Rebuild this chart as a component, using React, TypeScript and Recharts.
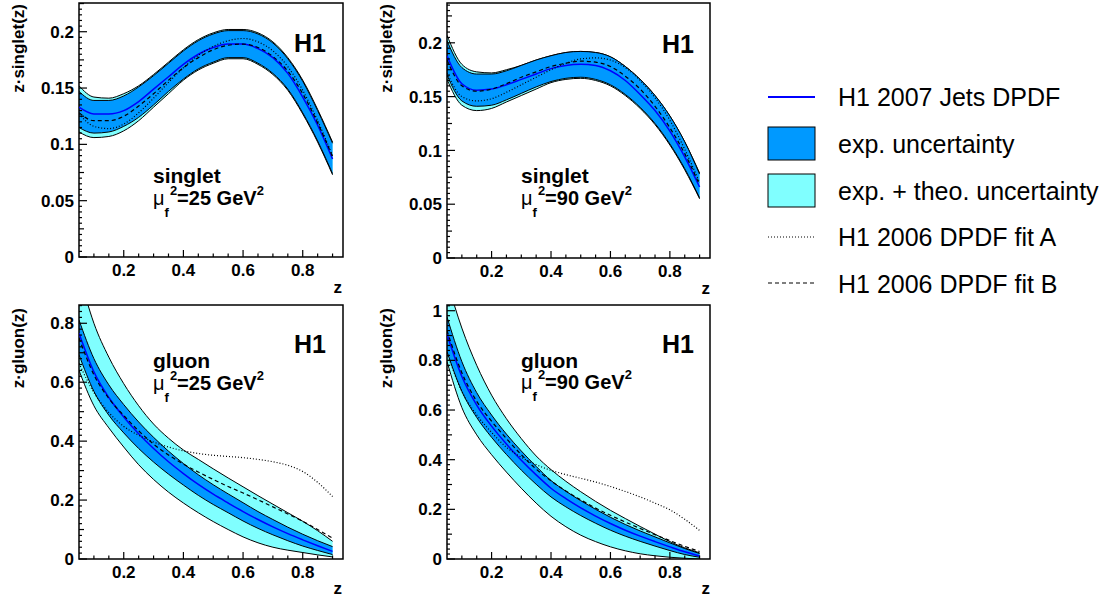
import React from 'react';
import { ComposedChart, Area, Line, XAxis, YAxis, ReferenceArea } from 'recharts';

const FONT = '"Liberation Sans", Arial, Helvetica, sans-serif';
const DARK = '#0099ff';
const LIGHT = '#80ffff';

// z grid shared by all four panels
const zValues = [0.05, 0.1, 0.15, 0.2, 0.25, 0.3, 0.35, 0.4, 0.45, 0.5, 0.55, 0.6, 0.65, 0.7, 0.75, 0.8, 0.85, 0.9];

// singlet, mu_f^2 = 25 GeV^2
const s25Central = [0.133, 0.127, 0.127, 0.130, 0.138, 0.149, 0.160, 0.171, 0.180, 0.186, 0.189, 0.189, 0.185, 0.177, 0.163, 0.142, 0.117, 0.087];
const s25ExpHigh = [0.147, 0.139, 0.139, 0.143, 0.151, 0.161, 0.172, 0.183, 0.192, 0.198, 0.201, 0.201, 0.198, 0.190, 0.176, 0.156, 0.130, 0.101];
const s25ExpLow = [0.115, 0.110, 0.111, 0.116, 0.124, 0.135, 0.147, 0.158, 0.167, 0.173, 0.177, 0.177, 0.172, 0.163, 0.149, 0.128, 0.103, 0.074];
const s25TotHigh = [0.152, 0.142, 0.141, 0.145, 0.152, 0.162, 0.173, 0.184, 0.193, 0.199, 0.202, 0.202, 0.199, 0.191, 0.177, 0.157, 0.131, 0.102];
const s25TotLow = [0.111, 0.106, 0.107, 0.112, 0.121, 0.133, 0.145, 0.157, 0.166, 0.172, 0.176, 0.176, 0.171, 0.162, 0.148, 0.127, 0.102, 0.073];
const s25FitA = [0.127, 0.116, 0.114, 0.118, 0.128, 0.141, 0.155, 0.168, 0.179, 0.187, 0.192, 0.194, 0.191, 0.183, 0.169, 0.148, 0.121, 0.090];
const s25FitB = [0.128, 0.121, 0.121, 0.125, 0.134, 0.145, 0.157, 0.168, 0.177, 0.184, 0.188, 0.189, 0.186, 0.178, 0.165, 0.145, 0.119, 0.089];

// singlet, mu_f^2 = 90 GeV^2
const s90Central = [0.188, 0.162, 0.156, 0.157, 0.161, 0.166, 0.171, 0.176, 0.179, 0.180, 0.179, 0.174, 0.165, 0.152, 0.137, 0.118, 0.094, 0.066];
const s90ExpHigh = [0.202, 0.177, 0.171, 0.171, 0.174, 0.179, 0.184, 0.188, 0.191, 0.192, 0.191, 0.187, 0.178, 0.166, 0.151, 0.132, 0.108, 0.078];
const s90ExpLow = [0.170, 0.146, 0.141, 0.142, 0.147, 0.153, 0.159, 0.164, 0.167, 0.168, 0.166, 0.161, 0.152, 0.140, 0.125, 0.106, 0.083, 0.056];
const s90TotHigh = [0.207, 0.180, 0.173, 0.172, 0.175, 0.179, 0.184, 0.188, 0.191, 0.192, 0.191, 0.187, 0.178, 0.166, 0.151, 0.132, 0.108, 0.079];
const s90TotLow = [0.166, 0.142, 0.137, 0.139, 0.145, 0.151, 0.157, 0.163, 0.166, 0.167, 0.165, 0.160, 0.151, 0.139, 0.124, 0.105, 0.082, 0.055];
const s90FitA = [0.172, 0.150, 0.146, 0.148, 0.154, 0.161, 0.168, 0.175, 0.181, 0.185, 0.186, 0.184, 0.177, 0.165, 0.149, 0.128, 0.101, 0.070];
const s90FitB = [0.184, 0.160, 0.155, 0.157, 0.162, 0.168, 0.173, 0.178, 0.181, 0.183, 0.182, 0.178, 0.169, 0.157, 0.141, 0.121, 0.097, 0.068];

// gluon, mu_f^2 = 25 GeV^2
const g25Central = [0.766, 0.635, 0.548, 0.482, 0.425, 0.375, 0.33, 0.29, 0.253, 0.22, 0.19, 0.161, 0.134, 0.109, 0.086, 0.065, 0.045, 0.026];
const g25ExpHigh = [0.811, 0.68, 0.591, 0.524, 0.465, 0.413, 0.366, 0.324, 0.286, 0.252, 0.221, 0.191, 0.161, 0.134, 0.108, 0.084, 0.062, 0.042];
const g25ExpLow = [0.693, 0.569, 0.488, 0.428, 0.375, 0.329, 0.288, 0.251, 0.216, 0.185, 0.157, 0.129, 0.104, 0.082, 0.062, 0.044, 0.029, 0.015];
const g25TotHigh = [0.97, 0.80, 0.685, 0.595, 0.52, 0.458, 0.41, 0.37, 0.338, 0.306, 0.275, 0.245, 0.215, 0.186, 0.157, 0.128, 0.096, 0.06];
const g25TotLow = [0.64, 0.52, 0.445, 0.38, 0.32, 0.27, 0.227, 0.19, 0.157, 0.127, 0.1, 0.075, 0.055, 0.04, 0.03, 0.022, 0.014, 0.007];
const g25FitA = [0.664, 0.565, 0.497, 0.45, 0.42, 0.397, 0.38, 0.367, 0.358, 0.352, 0.348, 0.344, 0.338, 0.33, 0.318, 0.297, 0.26, 0.212];
const g25FitB = [0.75, 0.625, 0.545, 0.487, 0.435, 0.39, 0.353, 0.322, 0.295, 0.27, 0.246, 0.224, 0.201, 0.177, 0.153, 0.128, 0.1, 0.071];

// gluon, mu_f^2 = 90 GeV^2
const g90Central = [0.905, 0.735, 0.62, 0.535, 0.463, 0.398, 0.339, 0.285, 0.243, 0.206, 0.173, 0.143, 0.116, 0.092, 0.07, 0.049, 0.029, 0.012];
const g90ExpHigh = [0.975, 0.795, 0.67, 0.58, 0.503, 0.435, 0.373, 0.316, 0.273, 0.235, 0.2, 0.168, 0.139, 0.113, 0.089, 0.065, 0.042, 0.022];
const g90ExpLow = [0.835, 0.675, 0.57, 0.49, 0.421, 0.358, 0.301, 0.25, 0.21, 0.175, 0.144, 0.116, 0.092, 0.071, 0.052, 0.034, 0.018, 0.007];
const g90TotHigh = [1.12, 0.93, 0.78, 0.66, 0.565, 0.485, 0.415, 0.36, 0.313, 0.271, 0.232, 0.196, 0.163, 0.131, 0.1, 0.07, 0.045, 0.025];
const g90TotLow = [0.795, 0.61, 0.50, 0.42, 0.35, 0.285, 0.225, 0.172, 0.13, 0.096, 0.07, 0.049, 0.033, 0.021, 0.013, 0.007, 0.003, 0.0];
const g90FitA = [0.83, 0.675, 0.58, 0.51, 0.45, 0.41, 0.38, 0.357, 0.34, 0.325, 0.31, 0.292, 0.272, 0.25, 0.225, 0.198, 0.16, 0.115];
const g90FitB = [0.92, 0.75, 0.635, 0.555, 0.485, 0.42, 0.362, 0.315, 0.274, 0.238, 0.205, 0.176, 0.149, 0.123, 0.098, 0.074, 0.051, 0.03];

// axis labels
const xMajor = [0.2, 0.4, 0.6, 0.8];
const singletYMajor = [0, 0.05, 0.1, 0.15, 0.2];
const gluon25YMajor = [0, 0.2, 0.4, 0.6, 0.8];
const gluon90YMajor = [0, 0.2, 0.4, 0.6, 0.8, 1];

const steps = (start: number, stop: number, step: number) => {
  const out: number[] = [];
  const n = Math.round((stop - start) / step);
  for (let i = 0; i <= n; i++) out.push(Math.round((start + i * step) * 1e5) / 1e5);
  return out;
};
const near = (a: number, b: number) => Math.abs(a - b) < 1e-6;

const buildRows = (c: number[], eh: number[], el: number[], th: number[], tl: number[], a: number[], b: number[]) =>
  zValues.map((z, i) => ({
    z,
    total: [tl[i], th[i]],
    exp: [el[i], eh[i]],
    central: c[i],
    fitA: a[i],
    fitB: b[i],
  }));

const Y_MARGIN = 5;
const X_MARGIN = 4;
const TICK_FONT = 17;

const YTick = (props: any) => {
  const { x, y, payload, majors, medium } = props;
  const v = payload.value as number;
  const axisX = x + Y_MARGIN;
  const isMajor = majors.some((m: number) => near(m, v));
  const r = v / medium;
  const isMedium = !isMajor && Math.abs(r - Math.round(r)) < 1e-6;
  const len = isMajor ? 8 : isMedium ? 5 : 3;
  return (
    <g>
      <line x1={axisX} x2={axisX + len} y1={y} y2={y} stroke="#000" strokeWidth={1.2} />
      {isMajor && (
        <text x={axisX - 5} y={y} dy="0.36em" textAnchor="end" fontSize={TICK_FONT} fontWeight="bold" fontFamily={FONT} fill="#000">
          {String(v)}
        </text>
      )}
    </g>
  );
};

const XTick = (props: any) => {
  const { x, y, payload } = props;
  const v = payload.value as number;
  const axisY = y - X_MARGIN;
  const isMajor = xMajor.some((m) => near(m, v));
  const len = isMajor ? 7 : 3.5;
  return (
    <g>
      <line x1={x} x2={x} y1={axisY} y2={axisY - len} stroke="#000" strokeWidth={1.2} />
      {isMajor && (
        <text x={x} y={axisY + 19} textAnchor="middle" fontSize={TICK_FONT} fontWeight="bold" fontFamily={FONT} fill="#000">
          {String(v)}
        </text>
      )}
    </g>
  );
};

interface PanelProps {
  left: number;
  top: number;
  width: number;
  height: number;
  margin: { top: number; right: number; bottom: number; left: number };
  rows: any[];
  yMax: number;
  yTicks: number[];
  yMajors: number[];
  yMedium: number;
}

const X_DOMAIN: [number, number] = [0.05, 0.935];

// margins below exclude the 1px that each axis reserves
const Panel = ({ left, top, width, height, margin, rows, yMax, yTicks, yMajors, yMedium }: PanelProps) => (
  <div style={{ position: 'absolute', left, top, width, height }}>
    <ComposedChart width={width} height={height} data={rows}
      margin={{ top: margin.top, right: margin.right, bottom: margin.bottom - 1, left: margin.left - 1 }}>
      <XAxis
        dataKey="z"
        type="number"
        domain={X_DOMAIN}
        allowDataOverflow
        ticks={steps(0.1, 0.9, 0.05)}
        interval={0}
        height={1}
        tickSize={0}
        tickMargin={X_MARGIN}
        axisLine={false}
        tickLine={false}
        tick={(p: any) => <XTick {...p} />}
      />
      <YAxis
        type="number"
        domain={[0, yMax]}
        allowDataOverflow
        ticks={yTicks}
        interval={0}
        width={1}
        tickSize={0}
        tickMargin={Y_MARGIN}
        axisLine={false}
        tickLine={false}
        tick={(p: any) => <YTick {...p} majors={yMajors} medium={yMedium} />}
      />
      <Area dataKey="total" type="monotone" fill={LIGHT} fillOpacity={1} stroke="#000" strokeWidth={1} isAnimationActive={false} dot={false} activeDot={false} />
      <Area dataKey="exp" type="monotone" fill={DARK} fillOpacity={1} stroke="#000" strokeWidth={1} isAnimationActive={false} dot={false} activeDot={false} />
      <Line dataKey="central" type="monotone" stroke="#0000ff" strokeWidth={1.5} dot={false} activeDot={false} isAnimationActive={false} />
      <Line dataKey="fitA" type="monotone" stroke="#000" strokeWidth={1.2} strokeDasharray="1 2" dot={false} activeDot={false} isAnimationActive={false} />
      <Line dataKey="fitB" type="monotone" stroke="#000" strokeWidth={1.2} strokeDasharray="4 3" dot={false} activeDot={false} isAnimationActive={false} />
      <ReferenceArea x1={X_DOMAIN[0]} x2={X_DOMAIN[1]} y1={0} y2={yMax} fill="none" stroke="#000" strokeWidth={1.5} ifOverflow="visible" />
    </ComposedChart>
  </div>
);

const MuLabel = ({ x, y, scale }: { x: number; y: number; scale: string }) => (
  <text x={x} y={y} fontSize={20} fontWeight="bold" fontFamily={FONT} fill="#000">
    <tspan fontWeight="normal">μ</tspan>
    <tspan fontSize={13} dy={12}>f</tspan>
    <tspan fontSize={13} dy={-22} dx={1}>2</tspan>
    <tspan dy={10}>{`=${scale} GeV`}</tspan>
    <tspan fontSize={13} dy={-10}>2</tspan>
  </text>
);

const PanelText = ({ ox, oy, name, scale, yTitle, nameY, muY, titleTop }: any) => (
  <g fontFamily={FONT} fill="#000">
    <text x={ox + 294} y={oy + 52} fontSize={25} fontWeight="bold">H1</text>
    <text x={ox + 153} y={nameY} fontSize={21} fontWeight="bold">{name}</text>
    <MuLabel x={ox + 153} y={muY} scale={scale} />
    <text transform={`translate(${ox + 24}, ${titleTop}) rotate(-90)`} textAnchor="end" fontSize={17} fontWeight="bold">{yTitle}</text>
    <text x={ox + 342} y={oy + 293} textAnchor="end" fontSize={17} fontWeight="bold">z</text>
  </g>
);

const legendLabels = ['H1 2007 Jets DPDF', 'exp. uncertainty', 'exp. + theo. uncertainty', 'H1 2006 DPDF fit A', 'H1 2006 DPDF fit B'];

const Legend = () => (
  <g fontFamily={FONT} fill="#000">
    <line x1={768} x2={815} y1={97} y2={97} stroke="#0000ff" strokeWidth={2} />
    <rect x={768} y={127} width={47} height={33} fill={DARK} stroke="#000" strokeWidth={1} />
    <rect x={768} y={174} width={47} height={33} fill={LIGHT} stroke="#000" strokeWidth={1} />
    <line x1={768} x2={815} y1={237} y2={237} stroke="#000" strokeWidth={1.2} strokeDasharray="1 2" />
    <line x1={768} x2={815} y1={283} y2={283} stroke="#000" strokeWidth={1.2} strokeDasharray="4 3" />
    {legendLabels.map((label, i) => (
      <text key={label} x={838} y={106 + i * 46.8} fontSize={25}>{label}</text>
    ))}
  </g>
);

export default function App() {
  const s25 = buildRows(s25Central, s25ExpHigh, s25ExpLow, s25TotHigh, s25TotLow, s25FitA, s25FitB);
  const s90 = buildRows(s90Central, s90ExpHigh, s90ExpLow, s90TotHigh, s90TotLow, s90FitA, s90FitB);
  const g25 = buildRows(g25Central, g25ExpHigh, g25ExpLow, g25TotHigh, g25TotLow, g25FitA, g25FitB);
  const g90 = buildRows(g90Central, g90ExpHigh, g90ExpLow, g90TotHigh, g90TotLow, g90FitA, g90FitB);

  return (
    <div style={{ position: 'absolute', left: 0, top: 0, width: 1109, height: 601, background: '#fff', overflow: 'hidden' }}>
      <Panel left={0} top={0} width={360} height={300} margin={{ top: 3, right: 17, bottom: 43, left: 79 }}
        rows={s25} yMax={0.2255} yTicks={steps(0, 0.225, 0.005)} yMajors={singletYMajor} yMedium={0.025} />
      <Panel left={360} top={0} width={360} height={300} margin={{ top: 3, right: 10, bottom: 42, left: 87 }}
        rows={s90} yMax={0.237} yTicks={steps(0, 0.235, 0.005)} yMajors={singletYMajor} yMedium={0.025} />
      <Panel left={0} top={290} width={360} height={311} margin={{ top: 15, right: 17, bottom: 42, left: 79 }}
        rows={g25} yMax={0.862} yTicks={steps(0, 0.86, 0.02)} yMajors={gluon25YMajor} yMedium={0.1} />
      <Panel left={360} top={290} width={360} height={311} margin={{ top: 15, right: 10, bottom: 42, left: 87 }}
        rows={g90} yMax={1.023} yTicks={steps(0, 1.02, 0.02)} yMajors={gluon90YMajor} yMedium={0.1} />
      <svg width={1109} height={601} style={{ position: 'absolute', left: 0, top: 0, pointerEvents: 'none' }}>
        <PanelText ox={0} oy={0} name="singlet" scale="25" yTitle="z·singlet(z)" nameY={183} muY={205} titleTop={4} />
        <PanelText ox={368} oy={1} name="singlet" scale="90" yTitle="z·singlet(z)" nameY={183} muY={205} titleTop={4} />
        <PanelText ox={0} oy={301} name="gluon" scale="25" yTitle="z·gluon(z)" nameY={368} muY={390} titleTop={308} />
        <PanelText ox={368} oy={301} name="gluon" scale="90" yTitle="z·gluon(z)" nameY={368} muY={389} titleTop={308} />
        <Legend />
      </svg>
    </div>
  );
}
